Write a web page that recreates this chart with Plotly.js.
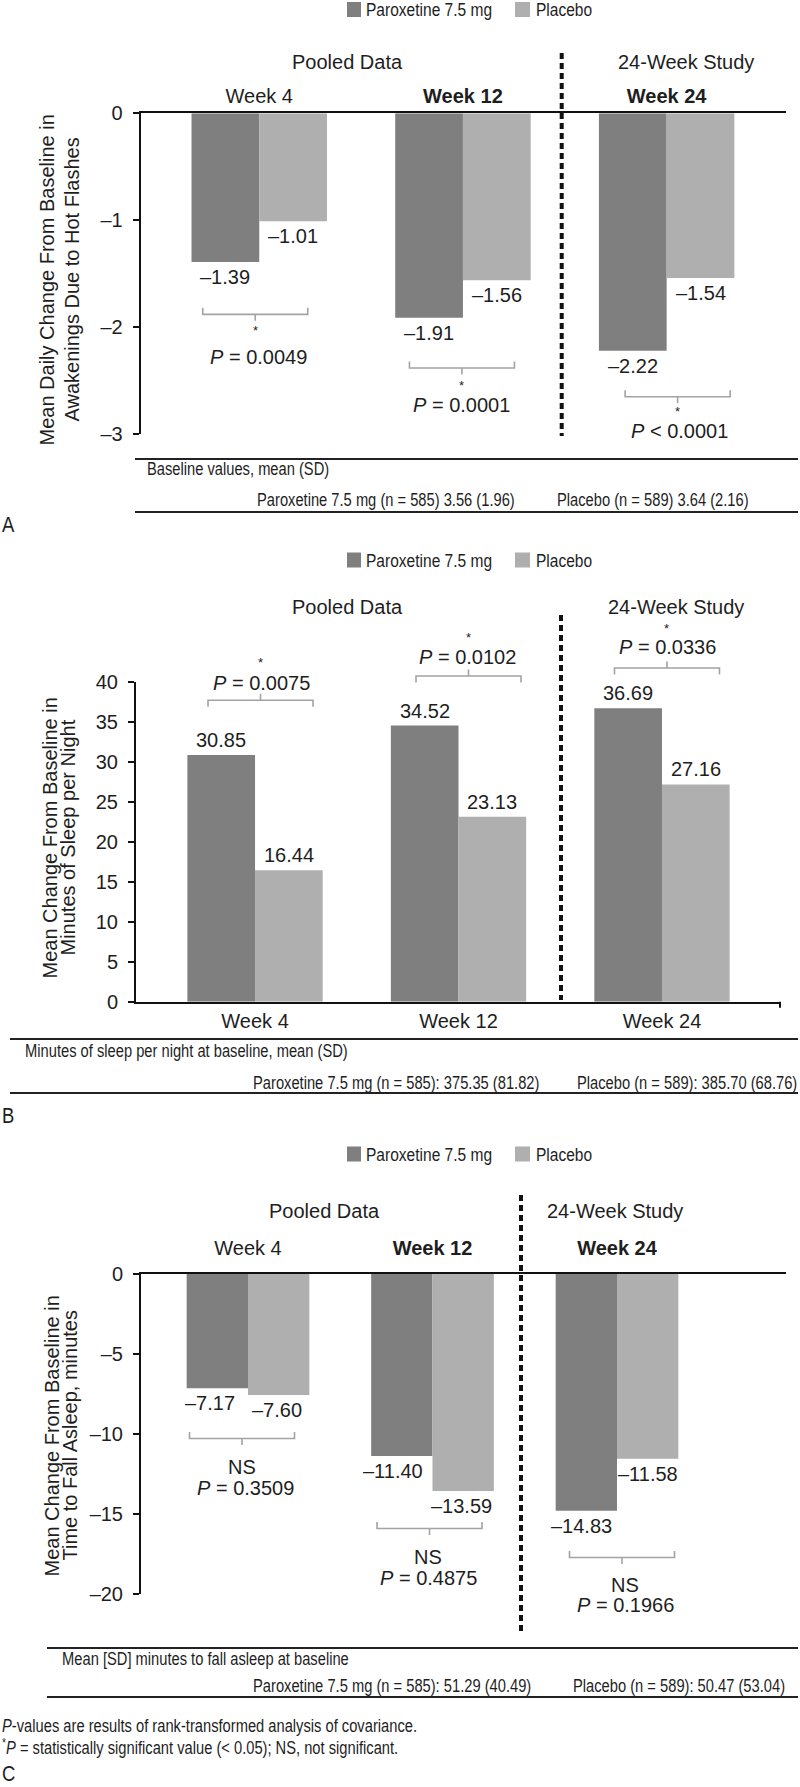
<!DOCTYPE html>
<html>
<head>
<meta charset="utf-8">
<script src="https://cdn.plot.ly/plotly-3.0.1.min.js"></script>
<style>
html, body { margin: 0; padding: 0; background: #ffffff; }
#chart { width: 800px; height: 1787px; }
</style>
</head>
<body>
<div id="chart"></div>
<script>
// ------------------------------------------------------------------
// DATA
// ------------------------------------------------------------------
const seriesNames = ['Paroxetine 7.5 mg', 'Placebo'];
const weeks = ['Week 4', 'Week 12', 'Week 24'];
const groupHeaders = ['Pooled Data', '24-Week Study'];

// Panel A: awakenings due to hot flashes
const awakeParox   = [-1.39, -1.91, -2.22];
const awakePlacebo = [-1.01, -1.56, -1.54];
const awakePOp     = ['=', '=', '<'];
const awakePVal    = ['0.0049', '0.0001', '0.0001'];
const awakeSig     = ['*', '*', '*'];
const awakeTicks   = [0, -1, -2, -3];

// Panel B: minutes of sleep per night
const sleepParox   = [30.85, 34.52, 36.69];
const sleepPlacebo = [16.44, 23.13, 27.16];
const sleepPOp     = ['=', '=', '='];
const sleepPVal    = ['0.0075', '0.0102', '0.0336'];
const sleepSig     = ['*', '*', '*'];
const sleepTicks   = [0, 5, 10, 15, 20, 25, 30, 35, 40];

// Panel C: time to fall asleep
const latParox     = [-7.17, -11.40, -14.83];
const latPlacebo   = [-7.60, -13.59, -11.58];
const latPOp       = ['=', '=', '='];
const latPVal      = ['0.3509', '0.4875', '0.1966'];
const latSig       = ['NS', 'NS', 'NS'];
const latTicks     = [0, -5, -10, -15, -20];

const yTitles = [
  ['Mean Daily Change From Baseline in', 'Awakenings Due to Hot Flashes'],
  ['Mean Change From Baseline in', 'Minutes of Sleep per Night'],
  ['Mean Change From Baseline in', 'Time to Fall Asleep, minutes']
];
const baselineTitles = [
  'Baseline values, mean (SD)',
  'Minutes of sleep per night at baseline, mean (SD)',
  'Mean [SD] minutes to fall asleep at baseline'
];
const baselineParox = [
  'Paroxetine 7.5 mg (n = 585) 3.56 (1.96)',
  'Paroxetine 7.5 mg (n = 585): 375.35 (81.82)',
  'Paroxetine 7.5 mg (n = 585): 51.29 (40.49)'
];
const baselinePlacebo = [
  'Placebo (n = 589) 3.64 (2.16)',
  'Placebo (n = 589): 385.70 (68.76)',
  'Placebo (n = 589): 50.47 (53.04)'
];
const panelLetters = ['A', 'B', 'C'];
const footnotes = [
  '<i>P</i>-values are results of rank-transformed analysis of covariance.',
  '<sup>*</sup><i>P</i> = statistically significant value (&lt; 0.05); NS, not significant.'
];

// ------------------------------------------------------------------
// STYLE / LAYOUT CONSTANTS (pixels)
// ------------------------------------------------------------------
const W = 800, H = 1787;
const SANS = 'Arial, "Liberation Sans", Helvetica, sans-serif';
const NARROW_SQUEEZE = 0.84;   // narrow-face emulation (horizontal squeeze)
const INK = '#1e1e1e';
const DARK = '#7f7f7f';
const LIGHT = '#afafaf';
const BRACKET = '#a3a3a3';
const BARGAP = 0.335;

const px = v => v / W;
const py = v => 1 - v / H;

const panels = [
  { xa: 'x',  ya: 'y',  xDom: [140.7, 786], yDom: [113.3, 434.3], xRange: [-0.582, 2.586], yRange: [-3, 0],
    parox: awakeParox, placebo: awakePlacebo, pOp: awakePOp, pVal: awakePVal, sig: awakeSig, ticks: awakeTicks,
    side: 'top', boldWeeks: [false, true, true], weekStandoff: 0,
    legendY: 9.5, headerY: 62, headerX: [347, 686],
    dash: { x: 561.7, y0: 53, y1: 436 },
    titleX: [46.5, 71.5], titleY: 280,
    rules: { x0: 135, y: [459, 512] },
    tableTitle: { x: 145, y: 469 }, tableRowY: 500.5, tableX: [255, 555], letterY: 525,
    labelDx: [[0, 0, 0], [0, 0, 0]],
    brk: { dx: [-4, -1, 11], off: [52.3, 50.3, 45.9], sigOff: [65.3, 65.3, 57.2], sigDx: [-4, -1, 11],
           pOff: [94.8, 87.3, 79.7], pDx: [-1, -1, 13] } },
  { xa: 'x2', ya: 'y2', xDom: [136, 780], yDom: [681.7, 1001.7], xRange: [-0.585, 2.58], yRange: [0, 40],
    parox: sleepParox, placebo: sleepPlacebo, pOp: sleepPOp, pVal: sleepPVal, sig: sleepSig, ticks: sleepTicks,
    side: 'bottom', boldWeeks: [false, false, false], weekStandoff: 0,
    legendY: 560, headerY: 607, headerX: [347, 676],
    dash: { x: 561, y0: 615, y1: 1000 },
    titleX: [49.5, 67.5], titleY: 838,
    rules: { x0: 10, y: [1039, 1093] },
    tableTitle: { x: 23, y: 1050.5 }, tableRowY: 1083, tableX: [251, 575], letterY: 1115,
    labelDx: [[0, 0, 0], [0, 0, 0]],
    brk: { dx: [5.5, 10, 5], off: [54.7, 49.5, 40.2], sigOff: [95.4, 91.5, 82.5], sigDx: [5, 10, 5],
           pOff: [72, 68.8, 61.2], pDx: [6.7, 9, 6] } },
  { xa: 'x3', ya: 'y3', xDom: [141, 786], yDom: [1273.5, 1593.5], xRange: [-0.58, 2.916], yRange: [-20, 0],
    parox: latParox, placebo: latPlacebo, pOp: latPOp, pVal: latPVal, sig: latSig, ticks: latTicks,
    side: 'top', boldWeeks: [false, true, true], weekStandoff: 9,
    legendY: 1154, headerY: 1211, headerX: [324, 615],
    dash: { x: 521, y0: 1195, y1: 1632 },
    titleX: [51.5, 69.5], titleY: 1436,
    rules: { x0: 47, y: [1648, 1697] },
    tableTitle: { x: 60, y: 1658.5 }, tableRowY: 1686, tableX: [251, 571], letterY: 1773.5,
    labelDx: [[-7, -9, -5], [-2, -2, 0]],
    brk: { dx: [-6, -3, 5], off: [43.4, 37.6, 46.7], sigOff: [71.4, 65.6, 74.7], sigDx: [-6, -5, 8],
           pOff: [92.4, 86.6, 94.7], pDx: [-3, -4, 8] } }
];

// data -> pixel helpers derived from each panel's axis settings
function xPix(p, v) {
  return p.xDom[0] + (v - p.xRange[0]) / (p.xRange[1] - p.xRange[0]) * (p.xDom[1] - p.xDom[0]);
}
function yPix(p, v) {
  return p.yDom[1] - (v - p.yRange[0]) / (p.yRange[1] - p.yRange[0]) * (p.yDom[1] - p.yDom[0]);
}
const fmtVal = v => (v < 0 ? '\u2013' : '') + Math.abs(v).toFixed(2);
const fmtTick = v => (v < 0 ? '\u2013' : '') + Math.abs(v);

// ------------------------------------------------------------------
// BUILD
// ------------------------------------------------------------------
const traces = [];
const annotations = [];
const shapes = [];
const narrowIdx = [];
const layout = {
  width: W, height: H,
  margin: { l: 0, r: 0, t: 0, b: 0 },
  paper_bgcolor: '#ffffff', plot_bgcolor: 'rgba(0,0,0,0)',
  font: { family: SANS, size: 20, color: INK },
  barmode: 'group', bargap: BARGAP, bargroupgap: 0,
  showlegend: false,
  hovermode: false
};

function addNarrow(a) { narrowIdx.push(annotations.length); annotations.push(a); }

const xs = weeks.map((w, i) => i);
const half = (1 - BARGAP) / 4;

panels.forEach((p, k) => {
  const xKey = p.xa === 'x' ? 'xaxis' : 'xaxis' + p.xa.slice(1);
  const yKey = p.ya === 'y' ? 'yaxis' : 'yaxis' + p.ya.slice(1);

  layout[xKey] = {
    domain: [px(p.xDom[0]), px(p.xDom[1])],
    range: p.xRange, anchor: p.ya, side: p.side,
    showline: true, linecolor: '#111', linewidth: 2, mirror: false,
    showgrid: false, zeroline: false, ticks: '',
    tickmode: 'array', tickvals: xs,
    ticktext: weeks.map((w, i) => p.boldWeeks[i] ? '<b>' + w + '</b>' : w),
    tickfont: { family: SANS, size: 20, color: INK },
    ticklabelstandoff: p.weekStandoff,
    fixedrange: true
  };
  layout[yKey] = {
    domain: [py(p.yDom[1]), py(p.yDom[0])],
    range: p.yRange, anchor: p.xa,
    showline: true, linecolor: '#111', linewidth: 2,
    showgrid: false, zeroline: false,
    ticks: 'outside', ticklen: 6, tickwidth: 2, tickcolor: '#111',
    tickmode: 'array', tickvals: p.ticks, ticktext: p.ticks.map(fmtTick),
    tickfont: { family: SANS, size: 20, color: INK },
    ticklabelstandoff: 6,
    fixedrange: true
  };

  // bars
  [p.parox, p.placebo].forEach((vals, s) => {
    traces.push({
      type: 'bar', name: seriesNames[s], x: xs, y: vals,
      xaxis: p.xa, yaxis: p.ya,
      marker: { color: s === 0 ? DARK : LIGHT, line: { width: 0 } },
      hoverinfo: 'skip', showlegend: false
    });
    // value labels attached to bar ends
    vals.forEach((v, j) => {
      annotations.push({
        xref: p.xa, yref: p.ya, x: j + (s === 0 ? -half : half), y: v,
        text: fmtVal(v), showarrow: false,
        xanchor: 'center', yanchor: 'middle',
        yshift: v < 0 ? -15 : 15, xshift: p.labelDx[s][j],
        font: { family: SANS, size: 20, color: INK }
      });
    });
  });

  // brackets + significance text
  const away = p.yRange[1] <= 0 ? 1 : -1;
  xs.forEach(j => {
    const ext = away > 0 ? Math.min(p.parox[j], p.placebo[j]) : Math.max(p.parox[j], p.placebo[j]);
    const base = yPix(p, ext);
    const cx = xPix(p, j) + p.brk.dx[j];
    const hy = base + away * p.brk.off[j];
    const yEnd = hy - away * 6.5, yStem = hy + away * 6.5;
    const x0 = cx - 52.5, x1 = cx + 52.5;
    shapes.push({
      type: 'path', xref: 'paper', yref: 'paper',
      path: 'M' + px(x0) + ',' + py(yEnd) + ' L' + px(x0) + ',' + py(hy) + ' L' + px(x1) + ',' + py(hy) +
            ' L' + px(x1) + ',' + py(yEnd) + ' M' + px(cx) + ',' + py(hy) + ' L' + px(cx) + ',' + py(yStem),
      line: { color: BRACKET, width: 1.6 }
    });
    const isStar = p.sig[j] === '*';
    annotations.push({
      xref: 'paper', yref: 'paper',
      x: px(xPix(p, j) + p.brk.sigDx[j]), y: py(base + away * p.brk.sigOff[j] + (isStar ? 3 : 0)),
      text: p.sig[j], showarrow: false, xanchor: 'center', yanchor: 'middle',
      font: { family: SANS, size: isStar ? 13 : 20, color: INK }
    });
    annotations.push({
      xref: 'paper', yref: 'paper',
      x: px(xPix(p, j) + p.brk.pDx[j]), y: py(base + away * p.brk.pOff[j]),
      text: '<i>P</i> ' + (p.pOp[j] === '<' ? '&lt;' : p.pOp[j]) + ' ' + p.pVal[j],
      showarrow: false, xanchor: 'center', yanchor: 'middle',
      font: { family: SANS, size: 20, color: INK }
    });
  });

  // group headers
  groupHeaders.forEach((h, i) => {
    annotations.push({
      xref: 'paper', yref: 'paper', x: px(p.headerX[i]), y: py(p.headerY),
      text: h, showarrow: false, xanchor: 'center', yanchor: 'middle',
      font: { family: SANS, size: 20, color: INK }
    });
  });

  // dashed separator
  shapes.push({
    type: 'line', xref: 'paper', yref: 'paper',
    x0: px(p.dash.x), x1: px(p.dash.x), y0: py(p.dash.y0), y1: py(p.dash.y1),
    line: { color: '#111', width: 4, dash: '6px,4px' }
  });

  // legend (manual)
  const sq = [[347, 361], [515, 530]];
  const lx = [364, 534];
  seriesNames.forEach((n, s) => {
    shapes.push({
      type: 'rect', xref: 'paper', yref: 'paper',
      x0: px(sq[s][0]), x1: px(sq[s][1]), y0: py(p.legendY + 7.5), y1: py(p.legendY - 7.5),
      fillcolor: s === 0 ? DARK : LIGHT, line: { width: 0 }
    });
    addNarrow({
      xref: 'paper', yref: 'paper', x: px(lx[s]), y: py(p.legendY),
      text: n, showarrow: false, xanchor: 'left', yanchor: 'middle',
      font: { family: SANS, size: 18.5, color: INK }
    });
  });

  // y-axis title (two lines)
  yTitles[k].forEach((t, i) => {
    annotations.push({
      xref: 'paper', yref: 'paper', x: px(p.titleX[i]), y: py(p.titleY),
      text: t, textangle: -90, showarrow: false, xanchor: 'center', yanchor: 'middle',
      font: { family: SANS, size: 20, color: INK }
    });
  });

  // baseline table
  p.rules.y.forEach(yy => {
    shapes.push({
      type: 'line', xref: 'paper', yref: 'paper',
      x0: px(p.rules.x0), x1: px(798), y0: py(yy), y1: py(yy),
      line: { color: '#222', width: 2 }
    });
  });
  addNarrow({
    xref: 'paper', yref: 'paper', x: px(p.tableTitle.x), y: py(p.tableTitle.y),
    text: baselineTitles[k], showarrow: false, xanchor: 'left', yanchor: 'middle',
    font: { family: SANS, size: 17.5, color: INK }
  });
  [baselineParox[k], baselinePlacebo[k]].forEach((t, i) => {
    addNarrow({
      xref: 'paper', yref: 'paper', x: px(p.tableX[i]), y: py(p.tableRowY),
      text: t, showarrow: false, xanchor: 'left', yanchor: 'middle',
      font: { family: SANS, size: 17.5, color: INK }
    });
  });
  addNarrow({
    xref: 'paper', yref: 'paper', x: px(0), y: py(p.letterY),
    text: panelLetters[k], showarrow: false, xanchor: 'left', yanchor: 'middle',
    font: { family: SANS, size: 22, color: INK }
  });
});

// end tick on panel B x-axis
shapes.push({
  type: 'line', xref: 'paper', yref: 'paper',
  x0: px(panels[1].xDom[1]), x1: px(panels[1].xDom[1]),
  y0: py(panels[1].yDom[1]), y1: py(panels[1].yDom[1] + 6),
  line: { color: '#111', width: 2 }
});

// footnotes
[1726, 1747].forEach((yy, i) => {
  addNarrow({
    xref: 'paper', yref: 'paper', x: 0, y: py(yy),
    text: footnotes[i], showarrow: false, xanchor: 'left', yanchor: 'middle',
    font: { family: SANS, size: 17.5, color: INK }
  });
});

layout.annotations = annotations;
layout.shapes = shapes;

Plotly.newPlot('chart', traces, layout, { staticPlot: true, displayModeBar: false }).then(gd => {
  // emulate the condensed face used for legend / table / footnote texts
  narrowIdx.forEach(i => {
    try {
      const g = gd.querySelector('.annotation[data-index="' + i + '"]');
      if (!g) return;
      const t = g.querySelector('text.annotation-text');
      if (!t) return;
      const bb = t.getBBox();
      t.setAttribute('transform',
        'translate(' + bb.x + ',0) scale(' + NARROW_SQUEEZE + ',1) translate(' + (-bb.x) + ',0)');
    } catch (e) { /* keep unsqueezed */ }
  });
});
</script>
</body>
</html>
